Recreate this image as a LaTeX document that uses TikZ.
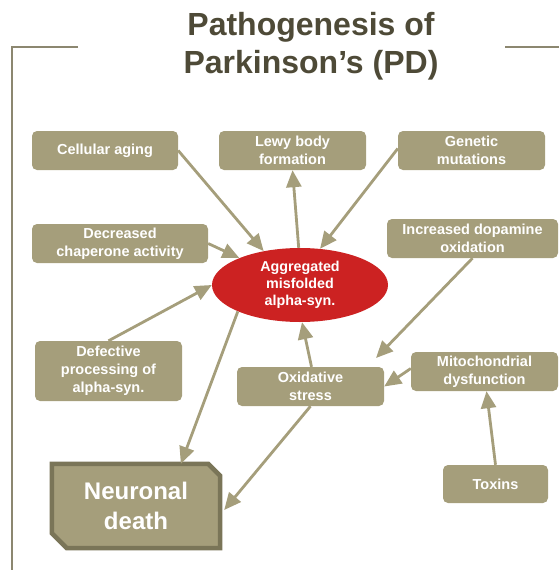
\documentclass[tikz,border=0pt]{standalone}
\usepackage{fontspec}
\setmainfont{Liberation Sans}
\usetikzlibrary{shapes.geometric,arrows.meta}
\definecolor{boxfill}{HTML}{A59E7B}
\definecolor{ndborder}{HTML}{7A7558}
\definecolor{aggred}{HTML}{CC2222}
\definecolor{titlecol}{HTML}{4E4A37}
\definecolor{framecol}{HTML}{8C8770}
\tikzset{
  boxnode/.style={fill=boxfill, rounded corners=5pt, text=white, font=\fontsize{14.5}{18}\selectfont\bfseries, align=center, inner sep=0pt},
  arr/.style={draw=boxfill, line width=2.8pt, -{Triangle[length=17pt,width=15pt]}},
}
\begin{document}
\begin{tikzpicture}[x=1pt,y=-1pt]
\useasboundingbox (0,0) rectangle (559,570);
% frame
\draw[framecol, line width=1.3pt] (78,47) -- (12,47) -- (12,570);
\draw[framecol, line width=1.3pt] (505,47) -- (559,47);
% title
\node[text=titlecol, font=\fontsize{32}{38}\selectfont\bfseries, align=center] (title) at (311,46) {Pathogenesis of\\Parkinson’s (PD)};
% boxes
\node[boxnode, minimum width=146pt, minimum height=39pt] (cell) at (105,150.5) {Cellular aging};
\node[boxnode, minimum width=147pt, minimum height=39pt] (lewy) at (292.5,150.5) {Lewy body\\formation};
\node[boxnode, minimum width=147pt, minimum height=39pt] (gen) at (471.5,150.5) {Genetic\\mutations};
\node[boxnode, minimum width=176pt, minimum height=39pt] (chap) at (120,243.5) {Decreased\\chaperone activity};
\node[boxnode, minimum width=171pt, minimum height=39pt] (dop) at (472.5,238.5) {Increased dopamine\\oxidation};
\node[ellipse, fill=aggred, text=white, font=\fontsize{14.3}{17}\selectfont\bfseries, align=center, minimum width=176pt, minimum height=74pt, inner sep=0pt] (agg) at (300,285) {Aggregated\\misfolded\\alpha-syn.};
\node[boxnode, minimum width=147pt, minimum height=60pt] (def) at (108.5,371) {Defective\\processing of\\alpha-syn.};
\node[boxnode, minimum width=147pt, minimum height=39pt] (ox) at (310.5,386.5) {Oxidative\\stress};
\node[boxnode, minimum width=147pt, minimum height=39pt] (mito) at (484.5,371.5) {Mitochondrial\\dysfunction};
\node[boxnode, minimum width=105pt, minimum height=38pt] (tox) at (495.5,484) {Toxins};
% neuronal death
\node[minimum width=168pt, minimum height=84pt, inner sep=0pt] (nd) at (136,506) {};
\fill[boxfill, draw=ndborder, line width=4.5pt, line join=miter]
  (nd.north west) -- ([xshift=-12pt]nd.north east) -- ([yshift=-12pt]nd.north east) -- (nd.south east) -- ([xshift=15pt]nd.south west) -- ([yshift=15pt]nd.south west) -- cycle;
\node[text=white, font=\fontsize{24}{30}\selectfont\bfseries, align=center, inner sep=0pt] (ndtext) at (nd.center) {Neuronal\\death};
% free end
\coordinate (dopend) at (376,358);
% connectors
\draw[arr] (cell.east) -- (agg.137);
\draw[arr] (agg.92) -- (lewy.south);
\draw[arr] ([yshift=2pt]gen.west) -- (agg.61);
\draw[arr] (chap.east) -- (agg.156);
\draw[arr] (def.north) -- (agg.west);
\draw[arr] (dop.south) -- (dopend);
\draw[arr] ([xshift=1pt]ox.north) -- ([xshift=2pt]agg.south);
\draw[arr] (agg.203) -- ([xshift=-2pt]nd.42);
\draw[arr] (ox.south) -- ([xshift=4pt,yshift=-4pt]nd.east);
\draw[arr] ([yshift=3pt]mito.west) -- (ox.east);
\draw[arr] (tox.north) -- ([xshift=2pt]mito.south);
\end{tikzpicture}
\end{document}
